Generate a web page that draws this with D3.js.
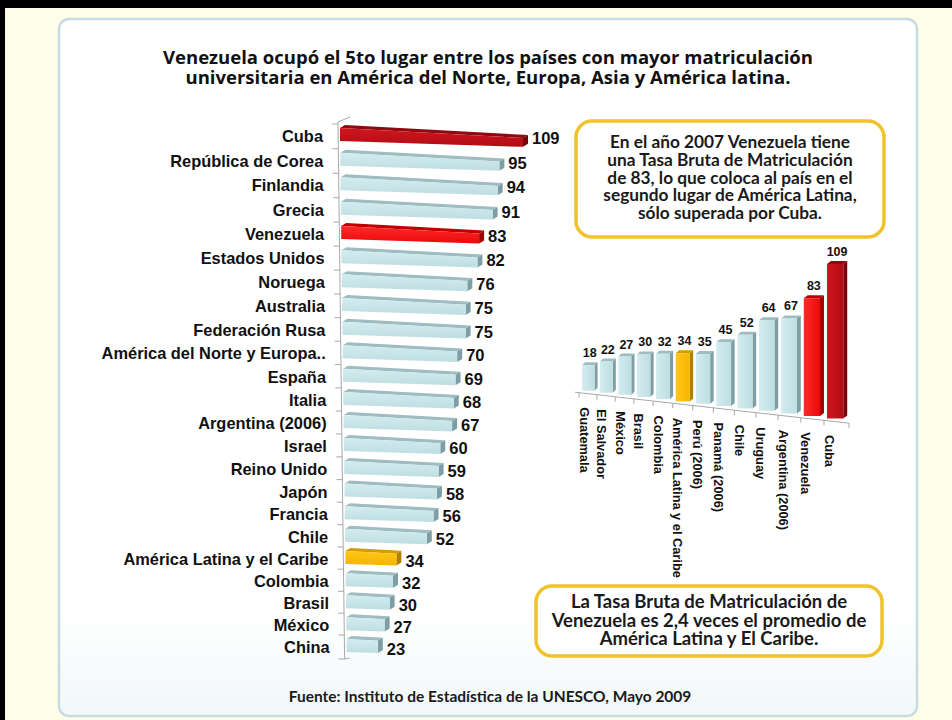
<!DOCTYPE html>
<html>
<head>
<meta charset="utf-8">
<script src="https://cdn.jsdelivr.net/npm/d3@7/dist/d3.min.js"></script>
<style>
  html, body { margin: 0; padding: 0; background: #fffee8; }
  svg { display: block; }
</style>
</head>
<body>
<script>
// Tasa bruta de matriculación universitaria (UNESCO, 2007)
const countries = [
  "Cuba", "República de Corea", "Finlandia", "Grecia", "Venezuela",
  "Estados Unidos", "Noruega", "Australia", "Federación Rusa",
  "América del Norte y Europa..", "España", "Italia", "Argentina (2006)",
  "Israel", "Reino Unido", "Japón", "Francia", "Chile",
  "América Latina y el Caribe", "Colombia", "Brasil", "México", "China"
];
const enrolment = [109, 95, 94, 91, 83, 82, 76, 75, 75, 70, 69, 68, 67,
                   60, 59, 58, 56, 52, 34, 32, 30, 27, 23];

const latamCountries = [
  "Guatemala", "El Salvador", "México", "Brasil", "Colombia",
  "América Latina y el Caribe", "Perú (2006)", "Panamá (2006)", "Chile",
  "Uruguay", "Argentina (2006)", "Venezuela", "Cuba"
];
const latamEnrolment = [18, 22, 27, 30, 32, 34, 35, 45, 52, 64, 67, 83, 109];

const titleLines = [
  "Venezuela ocupó el 5to lugar entre los países con mayor matriculación",
  "universitaria en América del Norte, Europa, Asia y América latina."
];
const noteTop = [
  "En el año 2007 Venezuela tiene",
  "una Tasa Bruta de Matriculación",
  "de 83, lo que coloca al país en el",
  "segundo lugar de América Latina,",
  "sólo superada por Cuba."
];
const noteBottom = [
  "La Tasa Bruta de Matriculación de",
  "Venezuela es 2,4 veces el promedio de",
  "América Latina y El Caribe."
];
const sourceText = "Fuente: Instituto de Estadística de la UNESCO, Mayo 2009";

const W = 952, H = 720;
const svg = d3.select("body").append("svg").attr("width", W).attr("height", H);
const defs = svg.append("defs");

// colour roles for the bars
const role = name => name === "Cuba" ? "cuba"
  : name === "Venezuela" ? "venezuela"
  : name === "América Latina y el Caribe" ? "region" : "base";
const palette = {
  base:      { front: ["#d3ecef", "#bedee2"], top: "#9fbcc1", side: "#7d9ea4" },
  cuba:      { front: ["#d0161f", "#b20c14"], top: "#8e0a10", side: "#76060b" },
  venezuela: { front: ["#ff2a2a", "#ea0a0a"], top: "#c00000", side: "#a40000" },
  region:    { front: ["#ffc71a", "#f5b400"], top: "#d49c00", side: "#b08000" }
};
Object.entries(palette).forEach(([k, p]) => {
  ["v", "h"].forEach(dir => {
    const g = defs.append("linearGradient").attr("id", `g-${k}-${dir}`)
      .attr("x1", 0).attr("y1", 0)
      .attr("x2", dir === "v" ? 0 : 1).attr("y2", dir === "v" ? 1 : 0);
    g.append("stop").attr("offset", 0).attr("stop-color", p.front[0]);
    g.append("stop").attr("offset", 1).attr("stop-color", p.front[1]);
  });
});
const panelGrad = defs.append("linearGradient").attr("id", "panel")
  .attr("x1", 0).attr("y1", 0).attr("x2", 0).attr("y2", 1);
panelGrad.append("stop").attr("offset", 0).attr("stop-color", "#ffffff");
panelGrad.append("stop").attr("offset", 0.85).attr("stop-color", "#ffffff");
panelGrad.append("stop").attr("offset", 1).attr("stop-color", "#f1f7f9");

// page frame
svg.append("rect").attr("x", 0).attr("y", 0).attr("width", W).attr("height", H).attr("fill", "#fffee8");
svg.append("rect").attr("x", 0).attr("y", 0).attr("width", W).attr("height", 8).attr("fill", "#000");
svg.append("rect").attr("x", 0).attr("y", 0).attr("width", 5).attr("height", H).attr("fill", "#000");
svg.append("rect").attr("x", 59).attr("y", 19).attr("width", 858).attr("height", 697)
  .attr("rx", 10).attr("fill", "url(#panel)").attr("stroke", "#c6dce2").attr("stroke-width", 2.5);

// title
const title = svg.append("g").attr("font-family", "'Open Sans', sans-serif")
  .attr("font-weight", 700).attr("font-size", 18.5).attr("fill", "#111").attr("text-anchor", "middle");
title.selectAll("text").data(titleLines).join("text")
  .attr("x", 488).attr("y", (d, i) => 64 + i * 19.5).text(d => d);

// perspective warp: evenly spaced positions drawn closer together further away
const persp = k => t => t * (1 + k) / (1 + k * t);

/* ---------- horizontal bars: all countries ---------- */
const rowT = d3.scalePoint().domain(countries).range([0, 1]);
const rowWarp = persp(0.068);
const yRow = d3.scaleLinear().domain([0, 1]).range([136, 647]);
const rowY = c => yRow(rowWarp(rowT(c)));
const xVal = d3.scaleLinear().domain([0, 109]).range([339, 523]);
const depth = { dx: 5, dy: -3 };

const left = svg.append("g");
const rows = countries.map((c, i) => ({ name: c, value: enrolment[i], i }));

// axis wall
const axisX = i => 338 + i * 0.3;
const axisG = left.append("g").attr("stroke", "#a8a8a8").attr("stroke-width", 1).attr("fill", "none");
axisG.append("path").attr("d", d3.line()([[axisX(0), 122], [axisX(22), 659]]));
axisG.append("path").attr("d", d3.line()([[axisX(0), 122], [350, 117]]));
axisG.append("path").attr("d", d3.line()([[axisX(22), 659], [axisX(22) + 5, 658]]));
rows.forEach(r => {
  const yb = rowY(r.name) - 12;
  axisG.append("path").attr("d", d3.line()([[axisX(r.i) - 6, yb], [axisX(r.i), yb]]));
});
axisG.append("path").attr("d", d3.line()([[axisX(22) - 6, 659], [axisX(22), 659]]));

rows.forEach(r => {
  const yc = rowY(r.name);
  const x0 = 340 + r.i * 0.3;
  const x1 = xVal(r.value);
  const L = x1 - x0;
  const A = [x0, yc - 8], B = [x1, yc - 8 + 0.055 * L];
  const C = [x1, yc + 5 + 0.032 * L], D = [x0, yc + 5];
  const add = p => [p[0] + depth.dx, p[1] + depth.dy];
  const p = palette[role(r.name)];
  const g = left.append("g");
  g.append("path").attr("d", d3.line()([A, B, add(B), add(A)]) + "Z").attr("fill", p.top);
  g.append("path").attr("d", d3.line()([B, add(B), add(C), C]) + "Z").attr("fill", p.side);
  g.append("path").attr("d", d3.line()([A, B, C, D]) + "Z").attr("fill", `url(#g-${role(r.name)}-v)`);
  g.append("text").attr("x", x0 - 17).attr("y", yc).attr("dy", "0.36em")
    .attr("text-anchor", "end").attr("font-family", "'Liberation Sans', Arial, sans-serif")
    .attr("font-weight", 700).attr("font-size", 16.4).attr("fill", "#111").text(r.name);
  g.append("text").attr("x", x1 + 9).attr("y", yc + 2).attr("dy", "0.36em")
    .attr("font-family", "'Liberation Sans', Arial, sans-serif")
    .attr("font-weight", 700).attr("font-size", 16.5).attr("fill", "#111").text(r.value);
});

/* ---------- vertical bars: Latin America ---------- */
const colT = d3.scalePoint().domain(latamCountries).range([0, 1]);
const colWarp = persp(-0.133);
const xCol = d3.scaleLinear().domain([0, 1]).range([582, 827]);
const colX = c => xCol(colWarp(colT(c)));
const hVal = d3.scaleLinear().domain([0, 109]).range([0, 154.5]);
const floorY = x => 390 + (x - 582) * 0.113;

const right = svg.append("g");
const cols = latamCountries.map((c, i) => ({ name: c, value: latamEnrolment[i], i }));
const stepAt = i => i < cols.length - 1
  ? colX(latamCountries[i + 1]) - colX(latamCountries[i])
  : colX(latamCountries[i]) - colX(latamCountries[i - 1]);

// floor axis
const fa = right.append("g").attr("stroke", "#a8a8a8").attr("stroke-width", 1).attr("fill", "none");
fa.append("path").attr("d", d3.line()([[575, floorY(575) + 3], [849, floorY(849) + 3]]));
cols.forEach(c => {
  const x = colX(c.name) - 3;
  fa.append("path").attr("d", d3.line()([[x, floorY(x) + 3], [x, floorY(x) + 8]]));
});
fa.append("path").attr("d", d3.line()([[849, floorY(849) + 3], [849, floorY(849) + 8]]));

cols.forEach(c => {
  const step = stepAt(c.i);
  const bx = colX(c.name);
  const fw = step * 0.7, sw = Math.max(3, step * 0.17);
  const bottom = floorY(bx + fw / 2);
  const top = bottom - hVal(c.value);
  const p = palette[role(c.name)];
  const g = right.append("g");
  const A = [bx, top], B = [bx + fw, top], C = [bx + fw, bottom], D = [bx, bottom];
  const add = q => [q[0] + sw, q[1] - 3];
  g.append("path").attr("d", d3.line()([A, B, add(B), add(A)]) + "Z").attr("fill", p.top);
  g.append("path").attr("d", d3.line()([B, add(B), add(C), C]) + "Z").attr("fill", p.side);
  g.append("path").attr("d", d3.line()([A, B, C, D]) + "Z").attr("fill", `url(#g-${role(c.name)}-h)`);
  g.append("text").attr("x", bx + (fw + sw) / 2).attr("y", top - 8)
    .attr("text-anchor", "middle").attr("font-family", "'Liberation Sans', Arial, sans-serif")
    .attr("font-weight", 700).attr("font-size", 12.5).attr("fill", "#111").text(c.value);
  const lx = bx + 2;
  g.append("text").attr("transform", `translate(${lx},${floorY(lx) + 17}) rotate(90)`)
    .attr("dy", "0.35em").attr("font-family", "'Liberation Sans', Arial, sans-serif")
    .attr("font-weight", 700).attr("font-size", 12.8).attr("fill", "#111").text(c.name);
});

/* ---------- notes ---------- */
function note(x, y, w, h, lines, y0, lh, fs) {
  const g = svg.append("g");
  g.append("rect").attr("x", x).attr("y", y).attr("width", w).attr("height", h)
    .attr("rx", 16).attr("fill", "#fff").attr("stroke", "#f0c22c").attr("stroke-width", 3.5);
  g.selectAll("text").data(lines).join("text")
    .attr("x", x + w / 2).attr("y", (d, i) => y0 + i * lh).attr("dy", "0.35em")
    .attr("text-anchor", "middle").attr("font-family", "Lato, 'Open Sans', sans-serif")
    .attr("font-weight", 700).attr("font-size", fs).attr("fill", "#1a1a1a").text(d => d);
}
note(576, 121, 308, 116, noteTop, 142, 17.8, 17.3);
note(536, 586, 346, 70, noteBottom, 602, 18.3, 18.5);

svg.append("text").attr("x", 490).attr("y", 697).attr("dy", "0.35em")
  .attr("text-anchor", "middle").attr("font-family", "Lato, 'Open Sans', sans-serif")
  .attr("font-weight", 700).attr("font-size", 15.5).attr("fill", "#1a1a1a").text(sourceText);
</script>
</body>
</html>
